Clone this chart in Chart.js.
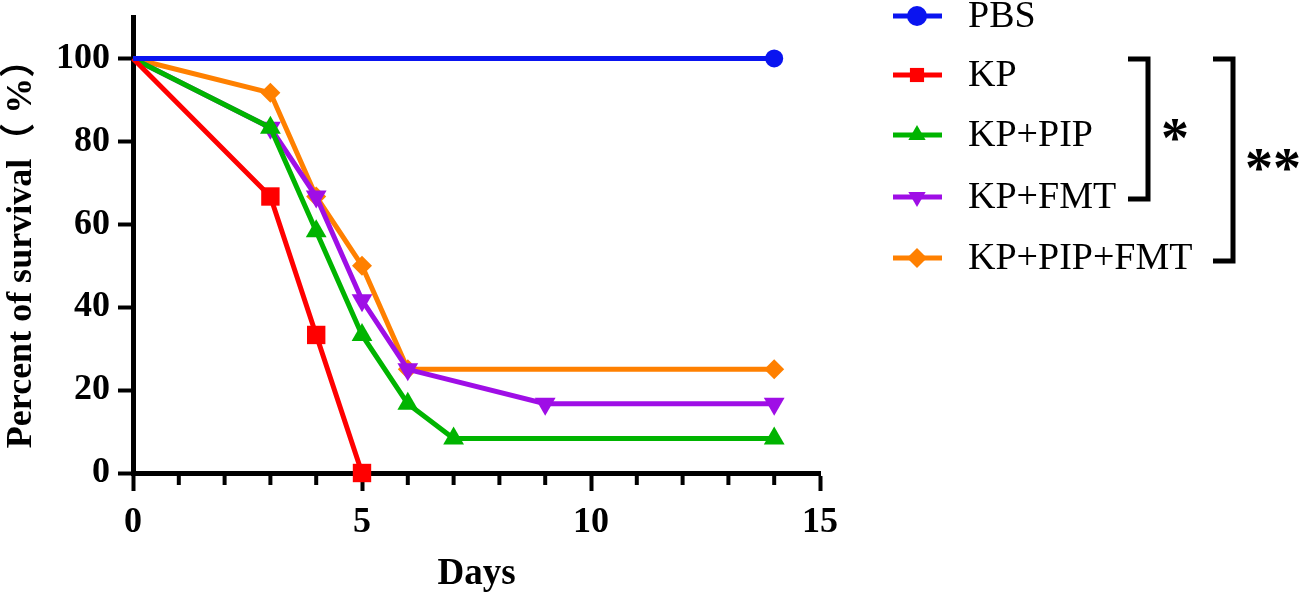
<!DOCTYPE html>
<html>
<head>
<meta charset="utf-8">
<script src="https://cdn.jsdelivr.net/npm/chart.js@4.4.0/dist/chart.umd.min.js"></script>
<style>
  html, body { margin: 0; padding: 0; background: #fff; }
  #wrap { width: 1299px; height: 594px; }
</style>
</head>
<body>
<div id="wrap"><canvas id="survival"></canvas></div>
<script>
// survival data
const seriesNames = ["PBS", "KP", "KP+PIP", "KP+FMT", "KP+PIP+FMT"];
const pbsDays = [0, 14];
const pbsSurvival = [100, 100];
const kpDays = [0, 3, 4, 5];
const kpSurvival = [100, 66.7, 33.3, 0];
const kpPipDays = [0, 3, 4, 5, 6, 7, 14];
const kpPipSurvival = [100, 83.3, 58.3, 33.3, 16.7, 8.3, 8.3];
const kpFmtDays = [0, 3, 4, 5, 6, 9, 14];
const kpFmtSurvival = [100, 83.3, 66.7, 41.7, 25, 16.7, 16.7];
const kpPipFmtDays = [0, 3, 4, 5, 6, 14];
const kpPipFmtSurvival = [100, 91.7, 66.7, 50, 25, 25];
const yTicks = [0, 20, 40, 60, 80, 100];
const xLabels = [0, 5, 10, 15];

const serif = "'Liberation Serif', 'Times New Roman', 'Noto Sans CJK SC', serif";

function pts(days, vals) {
  return days.map((d, i) => ({ x: d, y: vals[i] }));
}

function series(label, days, vals, color, style, radius, rotation) {
  return {
    label: label,
    data: pts(days, vals),
    borderColor: color,
    backgroundColor: color,
    borderWidth: 5,
    pointStyle: style,
    pointRotation: rotation || 0,
    pointRadius: ctx => ctx.dataIndex === 0 ? 0 : radius,
    pointBorderWidth: 0,
    tension: 0,
    clip: false
  };
}

const datasets = [
  series(seriesNames[0], pbsDays, pbsSurvival, "#0a14f0", "circle", 9),
  series(seriesNames[1], kpDays, kpSurvival, "#ff0000", "rect", 13),
  series(seriesNames[2], kpPipDays, kpPipSurvival, "#00b400", "triangle", 12),
  series(seriesNames[3], kpFmtDays, kpFmtSurvival, "#9f0ee6", "triangle", 12, 180),
  series(seriesNames[4], kpPipFmtDays, kpPipFmtSurvival, "#ff8000", "rectRot", 10)
];

// legend on the right plus significance brackets
const sideLegend = {
  id: "sideLegend",
  afterDraw(chart) {
    const ctx = chart.ctx;
    const rows = [16, 75, 135, 197, 258];
    ctx.save();
    chart.data.datasets.forEach((ds, i) => {
      const y = rows[i];
      ctx.strokeStyle = ds.borderColor;
      ctx.lineWidth = 5;
      ctx.beginPath();
      ctx.moveTo(893, y);
      ctx.lineTo(942, y);
      ctx.stroke();
      ctx.fillStyle = ds.backgroundColor;
      Chart.helpers.drawPoint(ctx, {
        pointStyle: ds.pointStyle,
        rotation: ds.pointRotation,
        radius: 10,
        borderWidth: 0
      }, 917, y);
      ctx.fillStyle = "#000";
      ctx.font = "38px " + serif;
      ctx.textBaseline = "middle";
      ctx.textAlign = "left";
      ctx.fillText(ds.label, 968, y + 1);
    });

    ctx.strokeStyle = "#000";
    ctx.lineWidth = 5;
    ctx.lineJoin = "miter";
    ctx.beginPath();
    ctx.moveTo(1128, 59); ctx.lineTo(1148, 59); ctx.lineTo(1148, 199); ctx.lineTo(1128, 199);
    ctx.stroke();
    ctx.beginPath();
    ctx.moveTo(1213, 59); ctx.lineTo(1233, 59); ctx.lineTo(1233, 261); ctx.lineTo(1213, 261);
    ctx.stroke();
    ctx.fillStyle = "#000";
    ctx.font = "bold 56px " + serif;
    ctx.textAlign = "center";
    ctx.textBaseline = "middle";
    ctx.fillText("*", 1175, 143);
    ctx.fillText("**", 1273, 173);
    ctx.restore();
  }
};

// shorter minor ticks on the x axis
const minorTicks = {
  id: "minorTicks",
  afterDraw(chart) {
    const sx = chart.scales.x;
    const ctx = chart.ctx;
    const y0 = chart.chartArea.bottom;
    ctx.save();
    ctx.strokeStyle = "#000";
    ctx.lineWidth = 4;
    for (let d = 1; d < 15; d++) {
      if (d % 5 === 0) continue;
      const px = sx.getPixelForValue(d);
      ctx.beginPath();
      ctx.moveTo(px, y0);
      ctx.lineTo(px, y0 + 12);
      ctx.stroke();
    }
    ctx.restore();
  }
};

new Chart(document.getElementById("survival"), {
  type: "line",
  data: { datasets: datasets },
  options: {
    responsive: true,
    maintainAspectRatio: false,
    animation: false,
    layout: { padding: { top: 17, right: 479, left: 0, bottom: 0 } },
    plugins: { legend: { display: false }, tooltip: { enabled: false } },
    scales: {
      x: {
        type: "linear",
        min: 0,
        max: 15,
        afterBuildTicks: axis => { axis.ticks = xLabels.map(v => ({ value: v })); },
        afterFit: axis => { axis.height = 121; },
        border: { display: true, color: "#000", width: 5 },
        grid: { drawOnChartArea: false, drawTicks: true, tickLength: 18, tickWidth: 4, tickColor: "#000" },
        ticks: { color: "#000", padding: 10, font: { family: serif, size: 36, weight: "bold" } },
        title: { display: true, text: "Days", color: "#000", padding: { top: 0, bottom: -3 }, font: { family: serif, size: 37, weight: "bold" } }
      },
      y: {
        min: 0,
        max: 110,
        afterBuildTicks: axis => { axis.ticks = yTicks.map(v => ({ value: v })); },
        afterFit: axis => { axis.width = 133; axis.paddingTop = 0; axis.paddingBottom = 0; },
        border: { display: true, color: "#000", width: 5 },
        grid: { drawOnChartArea: false, drawTicks: true, tickLength: 15, tickWidth: 4, tickColor: "#000" },
        ticks: { color: "#000", padding: 8, font: { family: serif, size: 36, weight: "bold" } },
        title: { display: true, text: "Percent of survival（ %）", color: "#000", padding: 0, font: { family: serif, size: 36, weight: "bold" } }
      }
    }
  },
  plugins: [sideLegend, minorTicks]
});
</script>
</body>
</html>
